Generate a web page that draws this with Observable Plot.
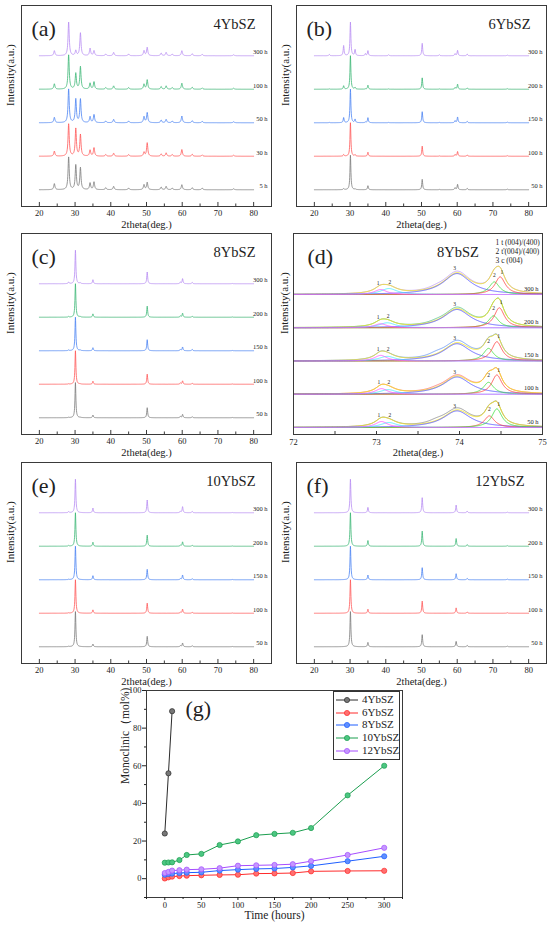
<!DOCTYPE html>
<html><head><meta charset="utf-8">
<script src="https://cdn.jsdelivr.net/npm/d3@7"></script>
<script src="https://cdn.jsdelivr.net/npm/@observablehq/plot@0.6"></script>
<style>
body{margin:0;background:#fff;}
#fig{position:relative;width:550px;height:925px;overflow:hidden;font-family:"Liberation Serif","Times New Roman","DejaVu Serif",serif;color:#222;}
.panel{position:absolute;}
.panel svg text{font-family:"Liberation Serif","Times New Roman","DejaVu Serif",serif;}
.leg{position:absolute;left:333px;top:691px;width:65px;height:67px;border:1px solid #333;background:#fff;}
.leg .row{position:absolute;left:0;height:12px;width:65px;}
.leg svg{position:absolute;left:1px;top:0;}
.leg span{position:absolute;left:28px;top:-1px;font-size:11px;line-height:13px;white-space:nowrap;}
</style></head><body><div id="fig"></div>
<script>
const FONT = "'Liberation Serif', 'Times New Roman', 'DejaVu Serif', serif";
const traceColors = ["#7a7a7a", "#ff5757", "#4a83f2", "#3bb675", "#b78df2"];

// ---------- XRD peak tables (2theta, relative height per trace) ----------
const times4 = ["5 h", "30 h", "50 h", "100 h", "300 h"];
const timesT = ["50 h", "100 h", "150 h", "200 h", "300 h"];

const peaks4 = [24.2, 28.2, 30.2, 31.5, 34.2, 35.3, 38.6, 40.8, 45.0, 49.3, 50.2, 54.1, 55.5, 57.2, 59.9, 62.8, 65.6, 74.4];
const int4 = [
  [0.18, 0.97, 0.73, 0.65, 0.20, 0.23, 0.06, 0.10, 0.05, 0.15, 0.22, 0.08, 0.10, 0.05, 0.15, 0.06, 0.05, 0.03],
  [0.15, 0.96, 0.82, 0.64, 0.18, 0.25, 0.05, 0.09, 0.05, 0.12, 0.40, 0.07, 0.10, 0.05, 0.20, 0.06, 0.04, 0.03],
  [0.16, 1.00, 0.70, 0.70, 0.18, 0.24, 0.05, 0.10, 0.05, 0.18, 0.30, 0.08, 0.10, 0.05, 0.20, 0.06, 0.04, 0.03],
  [0.16, 1.02, 0.47, 0.67, 0.18, 0.22, 0.05, 0.10, 0.05, 0.15, 0.28, 0.08, 0.10, 0.05, 0.18, 0.06, 0.04, 0.03],
  [0.15, 1.00, 0.15, 0.68, 0.22, 0.15, 0.05, 0.10, 0.05, 0.15, 0.25, 0.08, 0.10, 0.05, 0.15, 0.06, 0.04, 0.03]
];

const peaks6 = [24.2, 28.2, 30.1, 31.4, 34.3, 35.0, 40.8, 50.2, 55.0, 59.4, 60.1, 62.8, 74.0];
const int6 = [
  [0.00, 0.03, 1.03, 0.02, 0.00, 0.12, 0.00, 0.31, 0.01, 0.06, 0.16, 0.04, 0.02],
  [0.00, 0.05, 1.00, 0.04, 0.00, 0.12, 0.00, 0.30, 0.01, 0.05, 0.14, 0.04, 0.02],
  [0.01, 0.15, 1.00, 0.10, 0.02, 0.15, 0.01, 0.33, 0.01, 0.06, 0.17, 0.04, 0.02],
  [0.01, 0.10, 1.00, 0.05, 0.01, 0.12, 0.01, 0.34, 0.01, 0.05, 0.15, 0.04, 0.02],
  [0.04, 0.30, 1.00, 0.18, 0.06, 0.15, 0.03, 0.37, 0.03, 0.06, 0.16, 0.05, 0.02]
];

const peaks8 = [28.2, 30.1, 31.4, 35.0, 50.2, 59.5, 60.1, 62.8, 74.0];
const int8 = [
  [0.01, 1.05, 0.01, 0.08, 0.30, 0.04, 0.10, 0.03, 0.01],
  [0.01, 1.00, 0.01, 0.09, 0.30, 0.04, 0.10, 0.03, 0.01],
  [0.02, 1.00, 0.02, 0.09, 0.33, 0.04, 0.11, 0.04, 0.01],
  [0.02, 1.00, 0.02, 0.10, 0.33, 0.04, 0.12, 0.03, 0.01],
  [0.05, 1.00, 0.03, 0.12, 0.35, 0.05, 0.15, 0.04, 0.01]
];

const peaks10 = [28.2, 30.1, 35.0, 50.2, 59.5, 60.1, 62.8, 74.0];
const int10 = [
  [0.01, 1.05, 0.08, 0.31, 0.03, 0.11, 0.03, 0.01],
  [0.01, 1.00, 0.10, 0.30, 0.03, 0.12, 0.03, 0.01],
  [0.01, 1.00, 0.12, 0.31, 0.03, 0.14, 0.03, 0.01],
  [0.02, 1.00, 0.12, 0.33, 0.03, 0.13, 0.03, 0.01],
  [0.03, 1.00, 0.14, 0.38, 0.04, 0.18, 0.04, 0.01]
];

const peaks12 = [30.1, 35.0, 50.2, 59.7, 62.8, 74.0];
const int12 = [
  [1.05, 0.13, 0.36, 0.16, 0.04, 0.02],
  [1.00, 0.12, 0.36, 0.16, 0.04, 0.02],
  [1.00, 0.14, 0.36, 0.18, 0.04, 0.02],
  [1.00, 0.17, 0.45, 0.23, 0.05, 0.02],
  [1.00, 0.16, 0.45, 0.23, 0.05, 0.02]
];

// ---------- panel (d): fitted components per row (50 h .. 300 h) ----------
const dRows = ["50 h", "100 h", "150 h", "200 h", "300 h"];
const dLow1Pos = [73.06, 73.06, 73.05, 73.05, 73.05];
const dLow1H   = [0.18, 0.17, 0.17, 0.12, 0.15];
const dLow2Pos = [73.15, 73.14, 73.13, 73.13, 73.15];
const dLow2H   = [0.15, 0.14, 0.14, 0.15, 0.18];
const dCPos    = [73.97, 73.97, 73.97, 73.97, 73.97];
const dCH      = [0.50, 0.52, 0.52, 0.55, 0.63];
const dHiAPos  = [74.36, 74.35, 74.35, 74.41, 74.42];
const dHiAH    = [0.35, 0.36, 0.38, 0.36, 0.38];
const dHiAColor = ["#ff3b3b", "#39dd39", "#39dd39", "#39dd39", "#39dd39"];
const dHiBPos  = [74.45, 74.45, 74.45, 74.48, 74.49];
const dHiBH    = [0.56, 0.58, 0.58, 0.60, 0.53];
const dHiBColor = ["#39dd39", "#ff3b3b", "#ff3b3b", "#ff3b3b", "#ff3b3b"];
const dShoulderH = [0.07, 0.04, 0.08, 0.04, 0.05];
const dTopH      = [0.05, 0.03, 0.06, 0.04, 0.04];
const dLegend = ["1 t (004)/(400)", "2 t'(004)/(400)", "3 c (004)"];

// ---------- panel (g): monoclinic content ----------
const gTime4 = [0, 5, 10];
const g4 = [24, 56, 89];
const gTime = [0, 5, 10, 20, 30, 50, 75, 100, 125, 150, 175, 200, 250, 300];
const g6  = [0.1, 0.7, 1.1, 1.4, 1.6, 1.8, 2.0, 2.1, 2.7, 2.8, 3.0, 3.9, 4.1, 4.2];
const g8  = [2.1, 2.5, 2.7, 3.0, 3.2, 3.4, 4.3, 4.8, 5.2, 5.4, 6.0, 6.8, 9.3, 11.9];
const g10 = [8.5, 8.6, 8.7, 9.9, 12.6, 13.2, 17.9, 19.8, 23.1, 23.8, 24.4, 26.9, 44.3, 60.0];
const g12 = [3.0, 3.6, 4.3, 4.5, 4.8, 5.0, 5.6, 6.9, 7.1, 7.3, 7.7, 9.3, 12.6, 16.4];
const gNames = ["4YbSZ", "6YbSZ", "8YbSZ", "10YbSZ", "12YbSZ"];
const gLine = ["#2b2b2b", "#ff2a2a", "#1f5fff", "#1b9e4f", "#a64dff"];
const gFill = ["#777777", "#ff7070", "#5f8fff", "#4cc682", "#c497ff"];

// ---------- helpers ----------
function profile(x, pos, hts, hw) {
  let s = 0;
  for (let j = 0; j < pos.length; j++) {
    const w = Array.isArray(hw) ? hw[j] : hw;
    const u = (x - pos[j]) / w;
    s += hts[j] / (1 + u * u);
  }
  return s;
}
const fig = document.getElementById("fig");
function place(el, left, top) {
  const d = document.createElement("div");
  d.className = "panel";
  d.style.left = left + "px"; d.style.top = top + "px";
  d.appendChild(el); fig.appendChild(d);
}

// ---------- XRD panels ----------
function xrdPanel(cfg) {
  const yDom = [-0.5, 5.5];
  const grid = Array.from(new Set([...d3.range(20, 80.0001, 0.05), ...cfg.pos])).sort((a, b) => a - b);
  const marks = [];
  cfg.hts.forEach((hs, i) => {
    const pts = grid.map(x => ({x, y: i + profile(x, cfg.pos, hs, cfg.fwhm / 2)}));
    marks.push(Plot.line(pts, {x: "x", y: "y", stroke: traceColors[i], strokeWidth: 0.8}));
  });
  marks.push(
    Plot.frame({stroke: "#3a3a3a"}),
    Plot.ruleX(d3.range(15, 86, 5), {y1: yDom[0], y2: d => yDom[0] + (d % 10 === 0 ? 0.12 : 0.075), stroke: "#3a3a3a"}),
    Plot.axisX({ticks: d3.range(20, 81, 10), tickSize: 0, tickPadding: 3, tickFormat: d => String(d), fontSize: 8.5, fontFamily: FONT, label: null}),
    Plot.text(["2theta(deg.)"], {text: d => d, frameAnchor: "bottom", dy: 18, lineAnchor: "middle", fontSize: 10.5, fontFamily: FONT}),
    Plot.text(["Intensity(a.u.)"], {text: d => d, frameAnchor: "left", dx: -11, rotate: -90, fontSize: 11, fontFamily: FONT}),
    Plot.text(cfg.times.map((t, i) => ({t, i})), {y: "i", text: "t", frameAnchor: "right", dx: -4, dy: -1.5, lineAnchor: "bottom", fontSize: 6.5, fontFamily: FONT}),
    Plot.text([cfg.letter], {text: d => d, frameAnchor: "top-left", dx: 10, dy: 23, lineAnchor: "middle", fontSize: 22, fontFamily: FONT}),
    Plot.text([cfg.name], {text: d => d, frameAnchor: "top-right", dx: cfg.nameDx, dy: 19, lineAnchor: "middle", fontSize: 14.5, fontFamily: FONT})
  );
  return Plot.plot({
    width: 275, height: 231, marginLeft: 21, marginRight: 4, marginTop: 5, marginBottom: 25,
    x: {domain: [15, 85]}, y: {domain: yDom, axis: null},
    style: {background: "transparent", fontFamily: FONT, color: "#222"},
    marks
  });
}

place(xrdPanel({letter: "(a)", name: "4YbSZ", pos: peaks4, hts: int4, fwhm: 0.4, times: times4, nameDx: -16}), 0, 0);
place(xrdPanel({letter: "(b)", name: "6YbSZ", pos: peaks6, hts: int6, fwhm: 0.3, times: timesT, nameDx: -16}), 275, 0);
place(xrdPanel({letter: "(c)", name: "8YbSZ", pos: peaks8, hts: int8, fwhm: 0.3, times: timesT, nameDx: -16}), 0, 228);
place(xrdPanel({letter: "(e)", name: "10YbSZ", pos: peaks10, hts: int10, fwhm: 0.3, times: timesT, nameDx: -16}), 0, 457);
place(xrdPanel({letter: "(f)", name: "12YbSZ", pos: peaks12, hts: int12, fwhm: 0.3, times: timesT, nameDx: -22}), 275, 457);

// ---------- panel (d) ----------
(function () {
  const yDom = [-0.21, 5.835];
  const grid = d3.range(72, 75.0001, 0.005);
  const marks = [];
  const labels = [];
  dRows.forEach((row, i) => {
    const comps = [
      {pos: dCPos[i], h: dCH[i], hw: 0.2, color: "#4646ff"},
      {pos: dHiAPos[i], h: dHiAH[i], hw: 0.075, color: dHiAColor[i]},
      {pos: dHiBPos[i], h: dHiBH[i], hw: 0.075, color: dHiBColor[i]},
      {pos: dLow2Pos[i], h: dLow2H[i], hw: 0.12, color: "#3ee8ff"},
      {pos: dLow1Pos[i], h: dLow1H[i], hw: 0.09, color: "#ff4dff"}
    ];
    const P = comps.map(c => c.pos), H = comps.map(c => c.h), W = comps.map(c => c.hw);
    const sum = x => profile(x, P, H, W);
    const raw = x => sum(x) + profile(x, [73.72, 74.0], [dShoulderH[i], dTopH[i]], [0.12, 0.15]);
    marks.push(Plot.line(grid.map(x => ({x, y: i + raw(x)})), {x: "x", y: "y", stroke: traceColors[i], strokeWidth: 0.8, strokeOpacity: 0.9}));
    marks.push(Plot.line(grid.map(x => ({x, y: i + sum(x)})), {x: "x", y: "y", stroke: "#f2e21c", strokeWidth: 0.9}));
    comps.forEach(c => {
      marks.push(Plot.line(grid.map(x => ({x, y: i + profile(x, [c.pos], [c.h], c.hw)})), {x: "x", y: "y", stroke: c.color, strokeWidth: 0.8}));
    });
    labels.push({x: dLow1Pos[i] - 0.03, y: i + sum(dLow1Pos[i] - 0.03) + 0.05, t: "1"});
    labels.push({x: dLow2Pos[i] + 0.01, y: i + sum(dLow2Pos[i] + 0.01) + 0.05, t: "2"});
    labels.push({x: dCPos[i] - 0.03, y: i + sum(dCPos[i]) + 0.07, t: "3"});
    labels.push({x: dHiAPos[i], y: i + dHiAH[i] + 0.16, t: "2"});
    labels.push({x: dHiBPos[i] + 0.02, y: i + dHiBH[i] + 0.1, t: "1"});
  });
  marks.push(
    Plot.text(labels, {x: "x", y: "y", text: "t", fontSize: 5.5, fontFamily: FONT, lineAnchor: "bottom"}),
    Plot.frame({stroke: "#3a3a3a"}),
    Plot.ruleX([72.5, 73, 73.5, 74, 74.5], {y1: yDom[0], y2: yDom[0] + 0.09, stroke: "#3a3a3a"}),
    Plot.axisX({ticks: [72, 73, 74, 75], tickSize: 0, tickPadding: 4, tickFormat: d => String(d), fontSize: 8.5, fontFamily: FONT, label: null}),
    Plot.text(["2theta(deg.)"], {text: d => d, frameAnchor: "bottom", dy: 18, lineAnchor: "middle", fontSize: 10.5, fontFamily: FONT}),
    Plot.text(["Intensity(a.u.)"], {text: d => d, frameAnchor: "left", dx: -9, rotate: -90, fontSize: 11, fontFamily: FONT}),
    Plot.text(dRows.map((t, i) => ({t, i})), {y: "i", text: "t", frameAnchor: "right", dx: -4, dy: -4, lineAnchor: "bottom", fontSize: 6.5, fontFamily: FONT}),
    Plot.text(["(d)"], {text: d => d, frameAnchor: "top-left", dx: 14, dy: 23, lineAnchor: "middle", fontSize: 22, fontFamily: FONT}),
    Plot.text(["8YbSZ"], {text: d => d, frameAnchor: "top", dx: 40, dy: 19, lineAnchor: "middle", fontSize: 14.5, fontFamily: FONT}),
    ...dLegend.map((t, k) => Plot.text([t], {text: d => d, frameAnchor: "top-right", textAnchor: "start", dx: -47, dy: 9 + 9 * k, lineAnchor: "middle", fontSize: 7.5, fontFamily: FONT}))
  );
  place(Plot.plot({
    width: 275, height: 231, marginLeft: 18, marginRight: 8, marginTop: 5, marginBottom: 25,
    x: {domain: [72, 75]}, y: {domain: yDom, axis: null},
    style: {background: "transparent", fontFamily: FONT, color: "#222"},
    marks
  }), 275, 228);
})();

// ---------- panel (g) ----------
(function () {
  const series = [
    {t: gTime4, v: g4}, {t: gTime, v: g6}, {t: gTime, v: g8}, {t: gTime, v: g10}, {t: gTime, v: g12}
  ];
  const marks = [Plot.frame({stroke: "#3a3a3a"})];
  series.forEach((s, k) => {
    const rows = s.t.map((t, i) => ({t, v: s.v[i]}));
    marks.push(Plot.line(rows, {x: "t", y: "v", stroke: gLine[k], strokeWidth: 1}));
    marks.push(Plot.dot(rows, {x: "t", y: "v", r: 2.6, fill: gFill[k], stroke: gLine[k], strokeWidth: 0.7}));
  });
  marks.push(
    Plot.axisX({ticks: d3.range(0, 301, 50), tickSize: 3, tickPadding: 1, tickFormat: d => String(d), fontSize: 8.5, fontFamily: FONT, label: null}),
    Plot.axisX({ticks: d3.range(-25, 326, 50), tickSize: 2, tickFormat: () => "", label: null}),
    Plot.axisY({ticks: d3.range(0, 101, 20), tickSize: 4, tickPadding: 1, tickFormat: d => String(d), fontSize: 8.5, fontFamily: FONT, label: null}),
    Plot.axisY({ticks: d3.range(-10, 101, 20), tickSize: 2, tickFormat: () => "", label: null}),
    Plot.text(["Time (hours)"], {text: d => d, frameAnchor: "bottom", dy: 18, lineAnchor: "middle", fontSize: 11.5, fontFamily: FONT}),
    Plot.text(["Monoclinic（mol%)"], {text: d => d, frameAnchor: "left", dx: -21, dy: -10, rotate: -90, fontSize: 11.5, fontFamily: FONT}),
    Plot.text(["(g)"], {text: d => d, frameAnchor: "top-left", dx: 39, dy: 18, lineAnchor: "middle", fontSize: 22, fontFamily: FONT})
  );
  place(Plot.plot({
    width: 550, height: 245, marginLeft: 146, marginRight: 148, marginTop: 10, marginBottom: 28,
    x: {domain: [-25, 325]}, y: {domain: [-10, 100]},
    style: {background: "transparent", fontFamily: FONT, color: "#222"},
    marks
  }), 0, 680);

  const leg = document.createElement("div");
  leg.className = "leg";
  gNames.forEach((n, k) => {
    const r = document.createElement("div");
    r.className = "row";
    r.style.top = (2 + 12.7 * k) + "px";
    r.innerHTML = `<svg width="26" height="12"><line x1="1" x2="23" y1="6" y2="6" stroke="${gLine[k]}" stroke-width="1"/><circle cx="12" cy="6" r="2.6" fill="${gFill[k]}" stroke="${gLine[k]}" stroke-width="0.7"/></svg><span>${n}</span>`;
    leg.appendChild(r);
  });
  fig.appendChild(leg);
})();
</script></body></html>
